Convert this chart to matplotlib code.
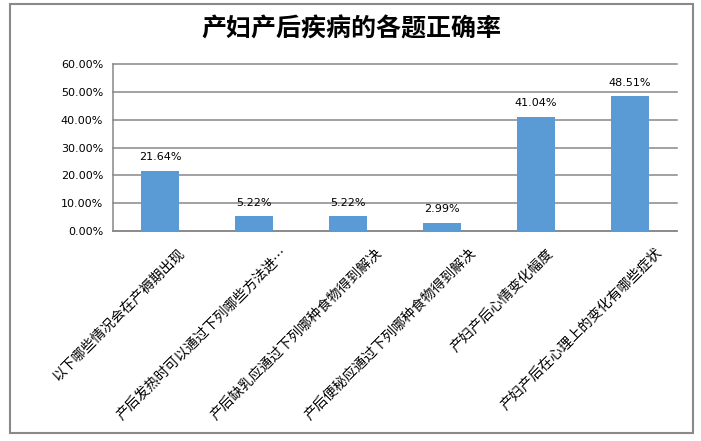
import matplotlib
matplotlib.use("Agg")
import matplotlib.pyplot as plt
from matplotlib.patches import Rectangle
from matplotlib.transforms import ScaledTranslation

categories = ['以下哪些情况会在产褥期出现',
              '产后发热时可以通过下列哪些方法进…',
              '产后缺乳应通过下列哪种食物得到解决',
              '产后便秘应通过下列哪种食物得到解决',
              '产妇产后心情变化幅度',
              '产妇产后在心理上的变化有哪些症状']
rates = [21.64, 5.22, 5.22, 2.99, 41.04, 48.51]
yticks = [0, 10, 20, 30, 40, 50, 60]

cjk = ['Noto Sans CJK SC', 'DejaVu Sans']
grid_col = '#878787'
bar_col = '#5B9BD5'

fig = plt.figure(figsize=(7.01, 4.41), dpi=100)
ax = fig.add_axes([113 / 701, 1 - 231 / 441, (677 - 113) / 701, (231 - 64) / 441])

x = list(range(len(categories)))
bars = ax.bar(x, rates, width=0.4, color=bar_col, zorder=3)
for xi, v in zip(x, rates):
    ax.text(xi, v + 3.0, f'{v:.2f}%', ha='center', va='bottom', fontsize=8,
            family='DejaVu Sans', color='black')

ax.set_xlim(-0.5, len(categories) - 0.5)
ax.set_ylim(0, 60)
ax.set_yticks(yticks)
ax.set_yticklabels([f'{t:.2f}%' for t in yticks], fontsize=8, family='DejaVu Sans')
ax.yaxis.grid(True, color=grid_col, linewidth=1.1, zorder=0)
ax.set_axisbelow(True)
for gl in ax.get_ygridlines():
    gl.set_clip_on(False)
ax.tick_params(axis='y', length=0, pad=7)
ax.tick_params(axis='x', length=0, pad=10.5)

ax.set_xticks(x)
ax.set_xticklabels(categories, rotation=45, ha='right', fontsize=10, family=cjk)
# excel shifts longer rotated labels further right of their tick
for lab, name in zip(ax.get_xticklabels(), categories):
    dx = (2.43 * len(name) - 4.8) / 100
    lab.set_transform(lab.get_transform() + ScaledTranslation(dx, 0, fig.dpi_scale_trans))

for side in ['top', 'right']:
    ax.spines[side].set_visible(False)
for side in ['left', 'bottom']:
    ax.spines[side].set_color(grid_col)
    ax.spines[side].set_linewidth(1.1)

fig.text(351 / 701, 1 - 29 / 441, '产妇产后疾病的各题正确率', ha='center', va='center',
         fontsize=18, fontweight='bold', family=cjk)

# outer chart border
fig.patches.append(Rectangle((10 / 701, 1 - 433 / 441), 683 / 701, 429 / 441,
                             transform=fig.transFigure, fill=False,
                             edgecolor='#898989', linewidth=1.5))

fig.savefig('out.png', dpi=100)
